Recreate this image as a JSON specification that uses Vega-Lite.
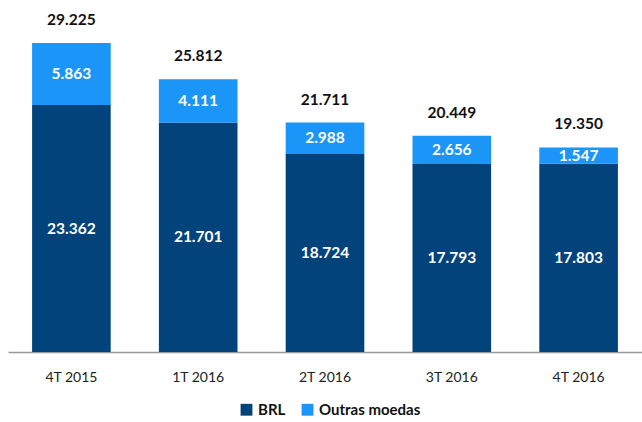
{
  "$schema": "https://vega.github.io/schema/vega-lite/v6.json",
  "width": 634,
  "height": 352,
  "autosize": {"type": "none"},
  "padding": {"left": 8, "top": 0, "right": 0, "bottom": 70},
  "background": "white",
  "config": {
    "locale": {"number": {"decimal": ",", "thousands": ".", "grouping": [3], "currency": ["R$", ""]}},
    "view": {"stroke": null},
    "font": "Lato"
  },
  "datasets": {
    "parts": [
      {"period": "4T 2015", "series": "BRL", "value": 23362},
      {"period": "4T 2015", "series": "Outras moedas", "value": 5863},
      {"period": "1T 2016", "series": "BRL", "value": 21701},
      {"period": "1T 2016", "series": "Outras moedas", "value": 4111},
      {"period": "2T 2016", "series": "BRL", "value": 18724},
      {"period": "2T 2016", "series": "Outras moedas", "value": 2988},
      {"period": "3T 2016", "series": "BRL", "value": 17793},
      {"period": "3T 2016", "series": "Outras moedas", "value": 2656},
      {"period": "4T 2016", "series": "BRL", "value": 17803},
      {"period": "4T 2016", "series": "Outras moedas", "value": 1547}
    ],
    "totals": [
      {"period": "4T 2015", "total": 29225},
      {"period": "1T 2016", "total": 25812},
      {"period": "2T 2016", "total": 21711},
      {"period": "3T 2016", "total": 20449},
      {"period": "4T 2016", "total": 19350}
    ]
  },
  "encoding": {
    "x": {
      "field": "period",
      "type": "nominal",
      "sort": ["4T 2015", "1T 2016", "2T 2016", "3T 2016", "4T 2016"],
      "scale": {"paddingInner": 0.38, "paddingOuter": 0.19},
      "axis": {
        "title": null,
        "labelAngle": 0,
        "ticks": false,
        "domainColor": "#999999",
        "domainWidth": 1.5,
        "labelFontSize": 14,
        "labelColor": "#222222",
        "labelPadding": 18,
        "labelFont": "Lato"
      }
    }
  },
  "layer": [
    {
      "data": {"name": "parts"},
      "transform": [
        {"stack": "value", "groupby": ["period"], "sort": [{"field": "series", "order": "ascending"}], "as": ["y0", "y1"]},
        {"calculate": "(datum.y0 + datum.y1) / 2", "as": "mid"}
      ],
      "layer": [
        {
          "mark": {"type": "bar"},
          "encoding": {
            "y": {"field": "y0", "type": "quantitative", "scale": {"domain": [0, 33300], "nice": false}, "axis": null},
            "y2": {"field": "y1"},
            "color": {
              "field": "series",
              "type": "nominal",
              "scale": {"domain": ["BRL", "Outras moedas"], "range": ["#03437B", "#1B95F7"]},
              "legend": {
                "title": null,
                "orient": "none",
                "legendX": 231,
                "legendY": 402,
                "direction": "horizontal",
                "symbolType": "square",
                "symbolSize": 140,
                "symbolStrokeWidth": 0,
                "labelFontSize": 15,
                "labelFontWeight": "bold",
                "labelFont": "Lato",
                "labelColor": "#111111",
                "columnPadding": 14
              }
            }
          }
        },
        {
          "mark": {"type": "text", "color": "white", "fontWeight": "bold", "fontSize": 15.5, "baseline": "middle"},
          "encoding": {
            "y": {"field": "mid", "type": "quantitative"},
            "text": {"field": "value", "type": "quantitative", "format": ",d"}
          }
        }
      ]
    },
    {
      "data": {"name": "totals"},
      "mark": {"type": "text", "color": "#111111", "fontWeight": "bold", "fontSize": 15.5, "baseline": "middle", "dy": -23},
      "encoding": {
        "y": {"field": "total", "type": "quantitative"},
        "text": {"field": "total", "type": "quantitative", "format": ",d"}
      }
    }
  ]
}
